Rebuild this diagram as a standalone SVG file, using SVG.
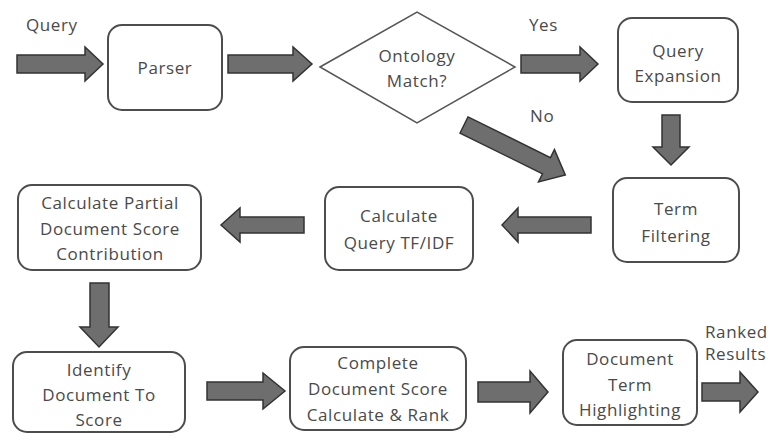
<svg xmlns="http://www.w3.org/2000/svg" width="769" height="437" viewBox="0 0 769 437">
<style>
.box{fill:#fff;stroke:#4d4d4d;stroke-width:2}
.dia{fill:#fff;stroke:#555;stroke-width:1.5}
.arr{fill:#6e6e6e;stroke:#333;stroke-width:1.5;stroke-linejoin:miter}
text{font-family:"Open Sans","DejaVu Sans",sans-serif;font-size:17px;letter-spacing:0.6px;fill:#4a4a4a}
.c{text-anchor:middle}
</style>
<rect width="769" height="437" fill="#fff"/>
<g id="connectors">
<polygon class="arr" points="17,55 85,55 85,47 103,64 85,81 85,73 17,73"/>
<polygon class="arr" points="228,55 293,55 293,47 312,64 293,81 293,73 228,73"/>
<polygon class="arr" points="521,55 580,55 580,47 598,64 580,81 580,73 521,73"/>
<polygon class="arr" points="662,115 680,115 680,147 689,147 671,165 653,147 662,147"/>
<polygon class="arr" transform="translate(464,125) rotate(26.3)" points="0,-9 92,-9 92,-18 113,0 92,18 92,9 0,9"/>
<polygon class="arr" points="591,217 518,217 518,208 502,225 518,242 518,233 591,233"/>
<polygon class="arr" points="304,217 240,217 240,208 221,225 240,242 240,233 304,233"/>
<polygon class="arr" points="90,283 109,283 109,327 118,327 99,347 80,327 90,327"/>
<polygon class="arr" points="207,382 263,382 263,373 285,391 263,409 263,400 207,400"/>
<polygon class="arr" points="478,382 530,382 530,371 548,392 530,413 530,402 478,402"/>
<polygon class="arr" points="702,383 740,383 740,372 758,392 740,412 740,401 702,401"/>
</g>
<g id="labels">
<text x="26" y="31">Query</text>
<text x="529" y="31">Yes</text>
<text x="530" y="122">No</text>
<text x="705" y="338">Ranked</text>
<text x="705" y="360">Results</text>
</g>
<g id="parser">
<rect class="box" x="108" y="25" width="114" height="85" rx="14"/>
<text class="c" x="165" y="74">Parser</text>
</g>
<g id="ontology">
<polygon class="dia" points="320,67 417,12 515,67 417,123"/>
<text class="c" x="417" y="62">Ontology</text>
<text class="c" x="417" y="87">Match?</text>
</g>
<g id="expansion">
<rect class="box" x="618" y="18" width="120" height="84" rx="14"/>
<text class="c" x="678" y="57">Query</text>
<text class="c" x="678" y="82">Expansion</text>
</g>
<g id="filtering">
<rect class="box" x="613" y="178" width="126" height="84" rx="14"/>
<text class="c" x="676" y="215">Term</text>
<text class="c" x="676" y="242">Filtering</text>
</g>
<g id="tfidf">
<rect class="box" x="325" y="187" width="148" height="83" rx="14"/>
<text class="c" x="399" y="222">Calculate</text>
<text class="c" x="399" y="249">Query TF/IDF</text>
</g>
<g id="partial">
<rect class="box" x="18" y="185" width="183" height="85" rx="14"/>
<text class="c" x="110" y="209">Calculate Partial</text>
<text class="c" x="110" y="235">Document Score</text>
<text class="c" x="110" y="260">Contribution</text>
</g>
<g id="identify">
<rect class="box" x="13" y="352" width="172" height="80" rx="14"/>
<text class="c" x="99" y="376">Identify</text>
<text class="c" x="99" y="401">Document To</text>
<text class="c" x="99" y="426">Score</text>
</g>
<g id="complete">
<rect class="box" x="290" y="347" width="176" height="83" rx="14"/>
<text class="c" x="378" y="369">Complete</text>
<text class="c" x="378" y="395">Document Score</text>
<text class="c" x="378" y="421">Calculate &amp; Rank</text>
</g>
<g id="highlighting">
<rect class="box" x="563" y="340" width="134" height="85" rx="14"/>
<text class="c" x="630" y="365">Document</text>
<text class="c" x="630" y="391">Term</text>
<text class="c" x="630" y="416">Highlighting</text>
</g>
</svg>
